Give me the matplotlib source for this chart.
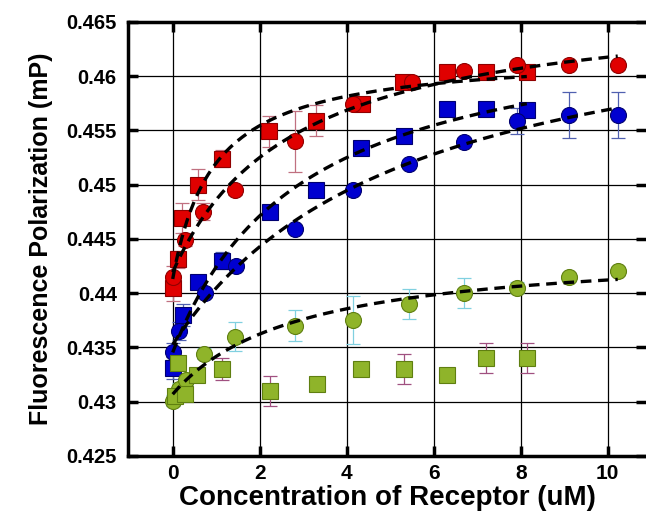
import numpy as np
import matplotlib
matplotlib.use('Agg')
import matplotlib.pyplot as plt

# Red squares
red_sq_x = [0.0, 0.13, 0.21, 0.57, 1.13, 2.22, 3.29, 4.34, 5.30, 6.30, 7.20, 8.14]
red_sq_y = [0.4405, 0.4431, 0.4469, 0.4500, 0.4524, 0.4549, 0.4559, 0.4574, 0.4595, 0.4604, 0.4604, 0.4604]
red_sq_err = [0.0012, 0.0008, 0.0014, 0.0014, 0.0008, 0.0014, 0.0014, 0.0005, 0.0005, 0.0004, 0.0004, 0.0004]

# Red circles
red_ci_x = [0.0, 0.28, 0.70, 1.43, 2.80, 4.15, 5.50, 6.70, 7.92, 9.10, 10.23]
red_ci_y = [0.4415, 0.4449, 0.4475, 0.4495, 0.4540, 0.4574, 0.4595, 0.4605, 0.4610, 0.4610, 0.4610]
red_ci_err = [0.0010, 0.0006, 0.0008, 0.0005, 0.0028, 0.0004, 0.0004, 0.0003, 0.0003, 0.0003, 0.0003]

# Blue squares
blue_sq_x = [0.0, 0.24, 0.59, 1.13, 2.24, 3.29, 4.33, 5.32, 6.30, 7.20, 8.14]
blue_sq_y = [0.4331, 0.4380, 0.4410, 0.4430, 0.4475, 0.4495, 0.4534, 0.4545, 0.4570, 0.4570, 0.4569]
blue_sq_err = [0.0010, 0.0010, 0.0006, 0.0008, 0.0006, 0.0004, 0.0004, 0.0004, 0.0004, 0.0004, 0.0004]

# Blue circles
blue_ci_x = [0.0, 0.15, 0.74, 1.45, 2.80, 4.15, 5.44, 6.70, 7.92, 9.10, 10.23]
blue_ci_y = [0.4346, 0.4365, 0.4400, 0.4425, 0.4459, 0.4495, 0.4519, 0.4539, 0.4559, 0.4564, 0.4564]
blue_ci_err = [0.0008, 0.0008, 0.0004, 0.0004, 0.0003, 0.0003, 0.0003, 0.0003, 0.0012, 0.0021, 0.0021]

# Green circles
green_ci_x = [0.0, 0.15, 0.30, 0.73, 1.43, 2.81, 4.14, 5.44, 6.70, 7.92, 9.10, 10.23]
green_ci_y = [0.4301, 0.4312, 0.4320, 0.4344, 0.4360, 0.4370, 0.4375, 0.4390, 0.4400, 0.4405, 0.4415, 0.4420]
green_ci_err = [0.0005, 0.0005, 0.0005, 0.0005, 0.0013, 0.0014, 0.0022, 0.0014, 0.0014, 0.0005, 0.0003, 0.0003]

# Green squares (no fit)
green_sq_x = [0.05, 0.13, 0.28, 0.55, 1.13, 2.24, 3.31, 4.33, 5.32, 6.30, 7.20, 8.14]
green_sq_y = [0.4305, 0.4336, 0.4307, 0.4325, 0.4330, 0.4310, 0.4316, 0.4330, 0.4330, 0.4325, 0.4340, 0.4340]
green_sq_err = [0.0005, 0.0005, 0.0005, 0.0005, 0.0010, 0.0014, 0.0003, 0.0003, 0.0014, 0.0003, 0.0014, 0.0014]

x_ticks = [0, 2, 4, 6, 8, 10]
y_ticks = [0.425, 0.43, 0.435, 0.44, 0.445, 0.45, 0.455, 0.46, 0.465]
y_tick_labels = ['0.425', '0.43', '0.435', '0.44', '0.445', '0.45', '0.455', '0.46', '0.465']


def binding_fit(x, y):
    # one-site hyperbola y = y0 + b*x/(kd + x), kd by grid search
    x = np.asarray(x)
    y = np.asarray(y)
    best = None
    for kd in np.linspace(0.05, 20, 800):
        A = np.column_stack([np.ones_like(x), x / (kd + x)])
        coef, *_ = np.linalg.lstsq(A, y, rcond=None)
        res = np.sum((A @ coef - y) ** 2)
        if best is None or res < best[0]:
            best = (res, kd, coef)
    _, kd, (y0, b) = best
    xs = np.linspace(0, x.max(), 200)
    return xs, y0 + b * xs / (kd + xs)


plt.rcParams['font.family'] = 'Liberation Sans'
plt.rcParams['font.weight'] = 'bold'

fig = plt.figure(figsize=(6.46, 5.21), dpi=100)
ax = fig.add_axes([0.198, 0.125, 0.802, 0.833])

series = [
    (red_sq_x, red_sq_y, red_sq_err, 's', '#e00000', '#900000', '#c07080', True),
    (red_ci_x, red_ci_y, red_ci_err, 'o', '#e00000', '#900000', '#c07080', True),
    (blue_sq_x, blue_sq_y, blue_sq_err, 's', '#0000d0', '#000070', '#5060b0', True),
    (blue_ci_x, blue_ci_y, blue_ci_err, 'o', '#0000d0', '#000070', '#5060b0', True),
    (green_ci_x, green_ci_y, green_ci_err, 'o', '#8fb42a', '#5f7f10', '#80d0e0', True),
    (green_sq_x, green_sq_y, green_sq_err, 's', '#8fb42a', '#5f7f10', '#a05080', False),
]

for x, y, err, mk, fc, ec, errc, fit in series:
    ax.errorbar(x, y, yerr=err, fmt='none', ecolor=errc, elinewidth=0.9,
                capsize=5, capthick=0.9, zorder=2)
    ms = 12 if mk == 's' else 11.5
    ax.plot(x, y, mk, markersize=ms, markerfacecolor=fc, markeredgecolor=ec,
            markeredgewidth=0.8, zorder=3)
    if fit:
        xs, ys = binding_fit(x, y)
        ax.plot(xs, ys, color='black', linewidth=2.4, dashes=(3.2, 2), zorder=4)

ax.set_xlim(-1.03, 10.88)
ax.set_ylim(0.425, 0.465)
ax.set_xticks(x_ticks)
ax.set_yticks(y_ticks)
ax.set_yticklabels(y_tick_labels)
ax.grid(True, color='black', linewidth=0.9)
ax.set_axisbelow(True)

for side in ['left', 'bottom', 'top']:
    ax.spines[side].set_linewidth(2.5)
ax.spines['right'].set_visible(False)

ax.tick_params(direction='in', length=7, width=2.5, top=True, right=True)
ax.tick_params(axis='x', pad=6, labelsize=15)
ax.tick_params(axis='y', pad=8, labelsize=14.5)

ax.set_xlabel('Concentration of Receptor (uM)', fontsize=20, fontweight='bold',
              labelpad=1)
ax.set_ylabel('Fluorescence Polarization (mP)', fontsize=18, fontweight='bold',
              labelpad=10)

plt.savefig('out.png', dpi=100)
